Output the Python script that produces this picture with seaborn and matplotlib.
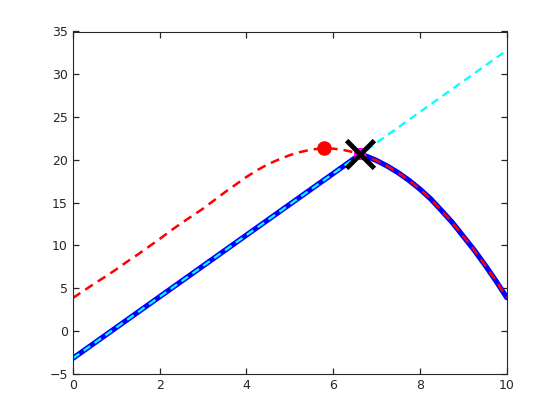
import numpy as np
import pandas as pd
import seaborn as sns
import matplotlib
matplotlib.use('Agg')
import matplotlib.pyplot as plt

# curve (red dashed)
red_x = [0, 0.25, 0.5, 0.75, 1, 1.25, 1.5, 1.75, 2, 2.25, 2.5, 2.75, 3, 3.25, 3.5, 3.75,
         4, 4.25, 4.5, 4.75, 5, 5.25, 5.5, 5.75, 6, 6.25, 6.5, 6.75, 7, 7.25, 7.5, 7.75,
         8, 8.25, 8.5, 8.75, 9, 9.25, 9.5, 9.75, 10]
red_y = [3.85, 4.7, 5.55, 6.35, 7.2, 8.1, 8.95, 9.85, 10.75, 11.7, 12.6, 13.45, 14.3, 15.25,
         16.2, 17.1, 18.0, 18.8, 19.5, 20.05, 20.55, 20.93, 21.2, 21.35, 21.31, 21.14, 20.86,
         20.45, 19.92, 19.26, 18.49, 17.59, 16.57, 15.42, 14.05, 12.65, 11.05, 9.45, 7.7,
         5.85, 3.9]

# straight line (cyan dashed)
cyan_x = [0, 10]
cyan_y = [-3.2, 32.8]

# lower envelope (blue solid)
blue_x = [0, 6.62, 6.75, 7, 7.25, 7.5, 7.75, 8, 8.25, 8.5, 8.75, 9, 9.25, 9.5, 9.75, 10]
blue_y = [-3.2, 20.64, 20.45, 19.92, 19.26, 18.49, 17.59, 16.57, 15.42, 14.05, 12.65,
          11.05, 9.45, 7.7, 5.85, 3.9]

# special points
peak = (5.78, 21.35)
cross = (6.62, 20.64)

sns.set_style("ticks", {"xtick.direction": "in", "ytick.direction": "in"})
plt.rcParams['font.family'] = ['DejaVu Sans']

fig = plt.figure(figsize=(5.6, 4.2), dpi=100)
ax = fig.add_axes([0.13, 0.11, 0.775, 0.815])

sns.lineplot(x=blue_x, y=blue_y, color='blue', linewidth=3.8, ax=ax, sort=False)
sns.lineplot(x=red_x, y=red_y, color='red', linewidth=1.8, ax=ax, sort=False)
sns.lineplot(x=cyan_x, y=cyan_y, color='cyan', linewidth=1.6, ax=ax, sort=False)
lines = ax.get_lines()
lines[1].set_dashes((3.6, 2.4))
lines[2].set_dashes((3.6, 2.4))

sns.scatterplot(x=[peak[0]], y=[peak[1]], color='red', s=110, linewidth=0, ax=ax, zorder=5)
sns.scatterplot(x=[cross[0]], y=[cross[1]], color='magenta', marker='s', s=70, linewidth=0, ax=ax, zorder=5)
sns.scatterplot(x=[cross[0]], y=[cross[1]], color='black', marker='x', s=400, linewidth=3.5, ax=ax, zorder=6)

ax.set_xlim(0, 10)
ax.set_ylim(-5, 35)
ax.set_xticks(range(0, 11, 2))
ax.set_yticks(range(-5, 36, 5))
ax.tick_params(direction='in', length=4.5, width=0.9, color='#262626', labelcolor='#262626',
               labelsize=9, top=True, right=True, bottom=True, left=True)
for sp in ax.spines.values():
    sp.set_visible(True)
    sp.set_color('#262626')
    sp.set_linewidth(0.8)

plt.savefig('out.png', dpi=100)
plt.close()
